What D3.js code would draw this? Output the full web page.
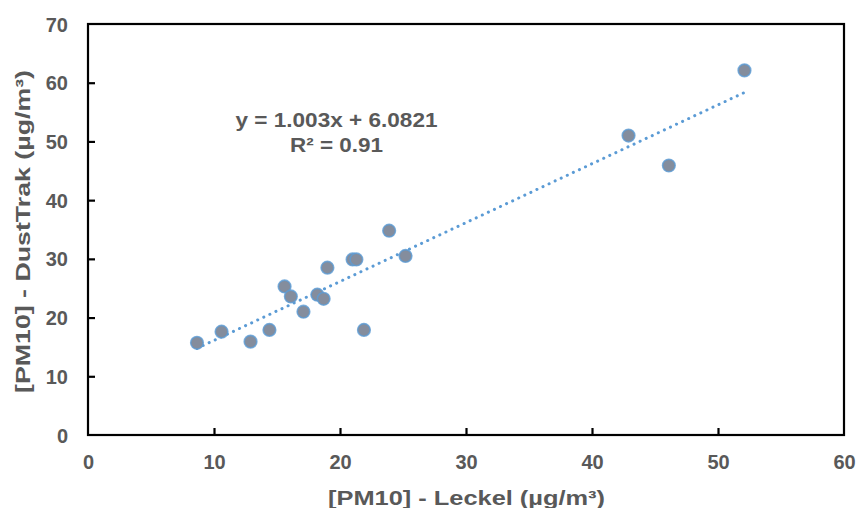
<!DOCTYPE html>
<html>
<head>
<meta charset="utf-8">
<script src="https://cdn.jsdelivr.net/npm/d3@7"></script>
<style>
  html, body { margin: 0; padding: 0; background: #fff; }
  svg { display: block; font-family: "Liberation Sans", Arial, sans-serif; }
  .tick-label { fill: #595959; font-weight: bold; font-size: 20px; }
  .axis-title { fill: #595959; font-weight: bold; font-size: 20px; }
  .eq { fill: #595959; font-weight: bold; font-size: 21px; }
</style>
</head>
<body>
<svg id="chart" width="859" height="508"></svg>
<script>
// Leckel vs DustTrak PM10 readings (µg/m³)
const leckel = [8.65, 10.6, 12.9, 14.4, 15.6, 16.1, 17.1, 18.2, 18.7, 19.0, 21.0, 21.3, 21.9, 23.9, 25.2, 42.9, 46.1, 52.1];
const dustTrak = [15.7, 17.6, 15.9, 17.9, 25.3, 23.6, 21.0, 23.9, 23.2, 28.5, 29.9, 29.9, 17.9, 34.8, 30.5, 51.0, 45.9, 62.1];
const xTicks = [0, 10, 20, 30, 40, 50, 60];
const yTicks = [0, 10, 20, 30, 40, 50, 60, 70];
const trend = { slope: 1.003, intercept: 6.0821 };
const eqLines = ["y = 1.003x + 6.0821", "R² = 0.91"];
const eqWidths = [202, 93];

const points = leckel.map((x, i) => ({ x, y: dustTrak[i] }));

const svg = d3.select("#chart");
const margin = { top: 24, right: 15, bottom: 73, left: 88 };
const width = 859, height = 508;

const x = d3.scaleLinear().domain([0, 60]).range([margin.left, width - margin.right]);
const y = d3.scaleLinear().domain([0, 70]).range([height - margin.bottom, margin.top]);

const blue = "#5b9bd5";

// trendline over the data's x extent
const [x0, x1] = d3.extent(leckel);
const trendPts = [x0, x1].map((v) => ({ x: v, y: trend.slope * v + trend.intercept }));
svg.append("path")
  .datum(trendPts)
  .attr("fill", "none")
  .attr("stroke", blue)
  .attr("stroke-width", 3)
  .attr("stroke-linecap", "round")
  .attr("stroke-dasharray", "0.1,6.6")
  .attr("d", d3.line().x((d) => x(d.x)).y((d) => y(d.y)));

// markers
svg.append("g")
  .selectAll("circle")
  .data(points)
  .join("circle")
  .attr("cx", (d) => x(d.x))
  .attr("cy", (d) => y(d.y))
  .attr("r", 6.3)
  .attr("fill", "#848d9d")
  .attr("stroke", blue)
  .attr("stroke-width", 1.6)
  .attr("stroke-opacity", 0.8);

// plot frame
svg.append("rect")
  .attr("x", x(0))
  .attr("y", y(70))
  .attr("width", x(60) - x(0))
  .attr("height", y(0) - y(70))
  .attr("fill", "none")
  .attr("stroke", "#000")
  .attr("stroke-width", 2.2);

// axes with inward ticks
const xAxis = svg.append("g")
  .attr("transform", `translate(0,${y(0)})`)
  .call(d3.axisBottom(x).tickValues(xTicks).tickSize(-7).tickFormat(d3.format("d")));
const yAxis = svg.append("g")
  .attr("transform", `translate(${x(0)},0)`)
  .call(d3.axisLeft(y).tickValues(yTicks).tickSize(-7).tickFormat(d3.format("d")));

[xAxis, yAxis].forEach((ax) => {
  ax.attr("font-size", null).attr("font-family", null);
  ax.select(".domain").remove();
  ax.selectAll("line").attr("stroke", "#000").attr("stroke-width", 2.2);
  ax.selectAll("text").attr("class", "tick-label");
});
xAxis.selectAll("line").filter((d) => d === 0 || d === 60).remove();
yAxis.selectAll("line").filter((d) => d === 0 || d === 70).remove();
xAxis.selectAll("text").attr("dy", null).attr("y", 34);
yAxis.selectAll("text").attr("x", -20).attr("dy", "0.35em");

// axis titles (the source renders them slightly stretched)
svg.append("text")
  .attr("class", "axis-title")
  .attr("x", 466.5)
  .attr("y", 505)
  .attr("text-anchor", "middle")
  .attr("textLength", 277)
  .attr("lengthAdjust", "spacingAndGlyphs")
  .text("[PM10] - Leckel (µg/m³)");

svg.append("text")
  .attr("class", "axis-title")
  .attr("transform", `translate(30,231.5) rotate(-90)`)
  .attr("text-anchor", "middle")
  .attr("textLength", 323)
  .attr("lengthAdjust", "spacingAndGlyphs")
  .text("[PM10] - DustTrak (µg/m³)");

// regression label
svg.append("g")
  .selectAll("text")
  .data(eqLines)
  .join("text")
  .attr("class", "eq")
  .attr("x", 336.5)
  .attr("y", (d, i) => 127 + i * 25)
  .attr("text-anchor", "middle")
  .attr("textLength", (d, i) => eqWidths[i])
  .attr("lengthAdjust", "spacingAndGlyphs")
  .text((d) => d);
</script>
</body>
</html>
